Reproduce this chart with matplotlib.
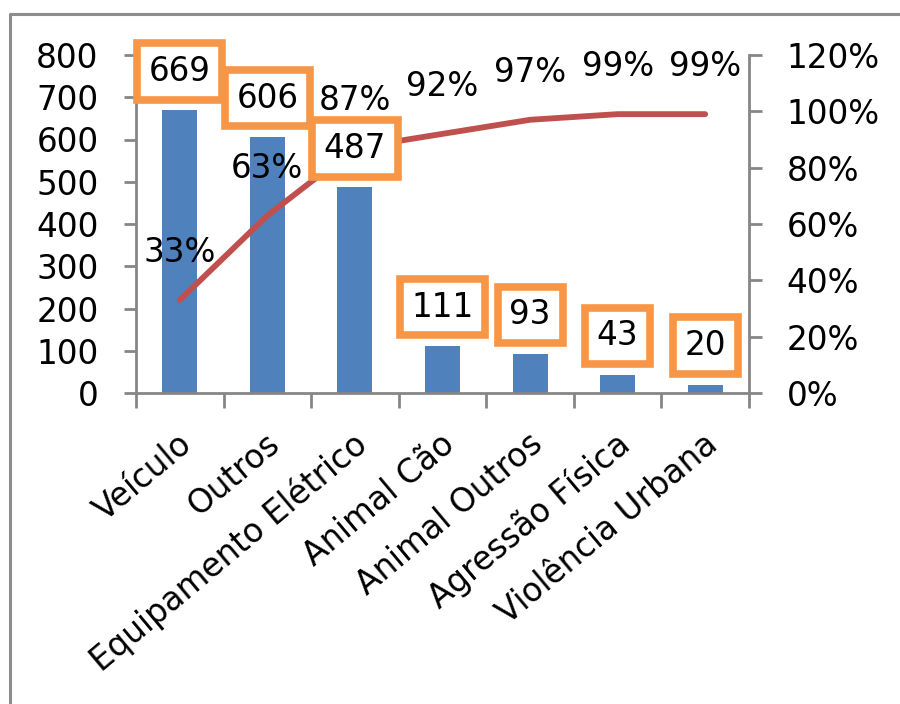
import matplotlib
matplotlib.use("Agg")
import matplotlib.pyplot as plt
import matplotlib.transforms as mtransforms
from matplotlib.lines import Line2D

# Occurrences by cause and their cumulative share
categories = ["Veículo", "Outros", "Equipamento Elétrico", "Animal Cão",
              "Animal Outros", "Agressão Física", "Violência Urbana"]
counts = [669, 606, 487, 111, 93, 43, 20]
cumulative_pct = [33, 63, 87, 92, 97, 99, 99]

left_ticks = [0, 100, 200, 300, 400, 500, 600, 700, 800]
right_ticks = [0, 20, 40, 60, 80, 100, 120]

BAR_BLUE = "#4F81BD"
LINE_RED = "#C0504D"
BOX_ORANGE = "#F79646"
AXIS_GRAY = "#868686"
FONT_SIZE = 23.5

plt.rcParams["font.family"] = "DejaVu Sans"

fig = plt.figure(figsize=(9, 7.04), dpi=100)
ax = fig.add_axes([136 / 900, 1 - 393 / 704, (749 - 136) / 900, (393 - 55) / 704])
ax2 = ax.twinx()

x = list(range(len(categories)))

ax.bar(x, counts, width=0.4, color=BAR_BLUE, zorder=2)
ax.set_xlim(-0.5, len(categories) - 0.5)
ax.set_ylim(0, 800)
ax.set_yticks(left_ticks)
ax.set_yticklabels([str(t) for t in left_ticks])

ax2.plot(x, [p / 100 for p in cumulative_pct], color=LINE_RED, lw=4.2,
         solid_capstyle="round", solid_joinstyle="round", zorder=2)
ax2.set_ylim(0, 1.2)
ax2.set_yticks([t / 100 for t in right_ticks])
ax2.set_yticklabels([f"{t}%" for t in right_ticks])

# ticks at category boundaries, labels placed by hand
ax.set_xticks([i - 0.5 for i in range(len(categories) + 1)])
ax.set_xticklabels([])

for a in (ax, ax2):
    for side in ("top", "right", "left", "bottom"):
        a.spines[side].set_visible(False)
    a.tick_params(colors=AXIS_GRAY, labelcolor="black", labelsize=FONT_SIZE,
                  width=2, length=9, direction="out")
ax.spines["left"].set_visible(True)
ax.spines["bottom"].set_visible(True)
ax2.spines["right"].set_visible(True)
for sp in (ax.spines["left"], ax.spines["bottom"], ax2.spines["right"]):
    sp.set_color(AXIS_GRAY)
    sp.set_linewidth(2)
ax.tick_params(axis="y", pad=18)
ax.tick_params(axis="x", length=11)
ax2.tick_params(axis="y", pad=18)

# rotated category labels
label_tf = ax.get_xaxis_transform() + mtransforms.ScaledTranslation(
    0.08, -0.47, fig.dpi_scale_trans)
for i, name in enumerate(categories):
    ax.text(i, 0, name, transform=label_tf, rotation=40, rotation_mode="anchor",
            ha="right", va="center", fontsize=FONT_SIZE)

# value boxes above bars
for i, v in enumerate(counts):
    ax2.annotate(str(v), xy=(i, v), xycoords=ax.transData,
                 xytext=(0, 28), textcoords="offset points",
                 ha="center", va="center", fontsize=FONT_SIZE, zorder=5,
                 annotation_clip=False,
                 bbox=dict(boxstyle="square,pad=0.36", fc="white",
                           ec=BOX_ORANGE, lw=5.5))

# cumulative percentage labels above the line
for i, p in enumerate(cumulative_pct):
    ax2.annotate(f"{p}%", xy=(i, p / 100), xycoords=ax2.transData,
                 xytext=(0, 34), textcoords="offset points",
                 ha="center", va="center", fontsize=FONT_SIZE, zorder=4,
                 annotation_clip=False)

# outer chart frame
frame_x = [10 / 900, 10 / 900, 1.02]
frame_y = [-0.02, 1 - 14 / 704, 1 - 14 / 704]
fig.add_artist(Line2D(frame_x, frame_y, transform=fig.transFigure,
                      color="#8C8C8C", lw=2.2))

fig.savefig("out.png", dpi=100)
